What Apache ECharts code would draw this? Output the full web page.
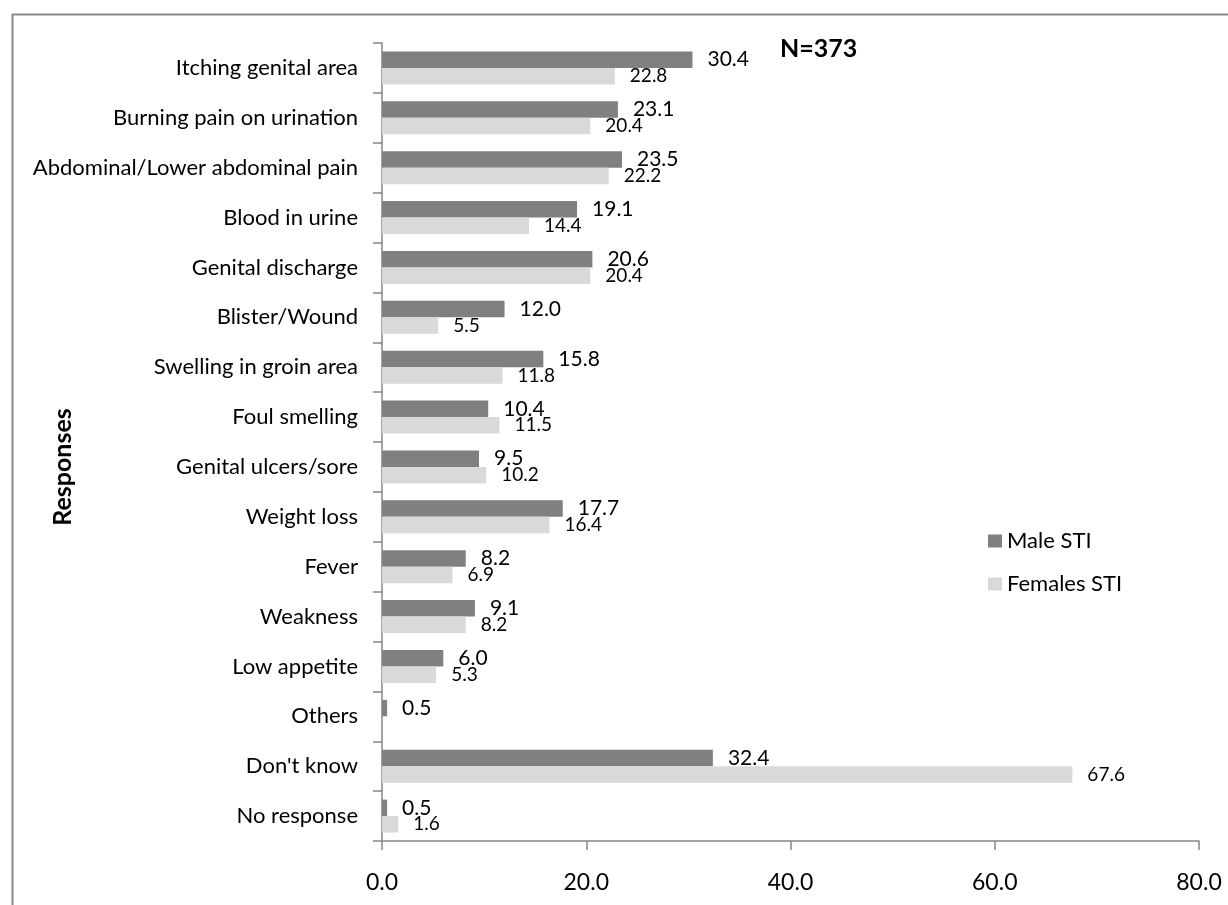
<!DOCTYPE html>
<html>
<head>
<meta charset="utf-8">
<script src="https://cdn.jsdelivr.net/npm/echarts@6/dist/echarts.min.js"></script>
<style>
html,body{margin:0;padding:0;background:#fff;}
#chart{width:1228px;height:905px;}
</style>
</head>
<body>
<div id="chart"></div>
<script>
var categories = [
  'Itching genital area',
  'Burning pain on urination',
  'Abdominal/Lower abdominal pain',
  'Blood in urine',
  'Genital discharge',
  'Blister/Wound',
  'Swelling in groin area',
  'Foul smelling',
  'Genital ulcers/sore',
  'Weight loss',
  'Fever',
  'Weakness',
  'Low appetite',
  'Others',
  "Don't know",
  'No response'
];
var maleSTI = [30.4, 23.1, 23.5, 19.1, 20.6, 12.0, 15.8, 10.4, 9.5, 17.7, 8.2, 9.1, 6.0, 0.5, 32.4, 0.5];
var femaleSTI = [22.8, 20.4, 22.2, 14.4, 20.4, 5.5, 11.8, 11.5, 10.2, 16.4, 6.9, 8.2, 5.3, null, 67.6, 1.6];
var xTicks = [0, 20, 40, 60, 80];
var seriesNames = ['Male STI', 'Females STI'];
var sampleNote = 'N=373';
var axisTitle = 'Responses';

var FONT = 'Lato, "Open Sans", sans-serif';
var chart = echarts.init(document.getElementById('chart'));
chart.setOption({
  backgroundColor: '#ffffff',
  animation: false,
  textStyle: { fontFamily: FONT, color: '#000' },
  graphic: [
    { type: 'rect', left: 10, top: 12, shape: { width: 1300, height: 1000 },
      style: { fill: 'none', stroke: '#8a8a8a', lineWidth: 2 }, silent: true },
    { type: 'text', left: 780, top: 36,
      style: { text: sampleNote, font: 'bold 25px ' + FONT, fill: '#000' } },
    { type: 'text', x: 63, y: 467, rotation: Math.PI / 2,
      style: { text: axisTitle, font: 'bold 25px ' + FONT, fill: '#000',
               align: 'center', verticalAlign: 'middle' } }
  ],
  legend: {
    orient: 'vertical',
    left: 983,
    top: 525,
    itemWidth: 14,
    itemHeight: 13,
    itemGap: 21,
    data: seriesNames,
    textStyle: { fontSize: 22, fontFamily: FONT, color: '#000' },
    icon: 'rect'
  },
  grid: { left: 382, right: 29, top: 43, bottom: 64, containLabel: false },
  xAxis: {
    type: 'value',
    min: xTicks[0],
    max: xTicks[xTicks.length - 1],
    interval: xTicks[1] - xTicks[0],
    splitLine: { show: false },
    axisLine: { show: true, lineStyle: { color: '#868686', width: 1.5 } },
    axisTick: { show: true, length: 9, lineStyle: { color: '#868686', width: 1.5 } },
    axisLabel: { fontSize: 23, margin: 30, color: '#000', fontFamily: FONT,
                 formatter: function (v) { return v.toFixed(1); } }
  },
  yAxis: {
    type: 'category',
    data: categories,
    inverse: true,
    axisLine: { show: true, lineStyle: { color: '#868686', width: 1.5 } },
    axisTick: { show: true, length: 9, lineStyle: { color: '#868686', width: 1.5 } },
    axisLabel: { fontSize: 22, margin: 24, color: '#000', fontFamily: FONT }
  },
  series: [
    {
      name: seriesNames[0], type: 'bar', data: maleSTI,
      barGap: '0%', barCategoryGap: '34%',
      itemStyle: { color: '#808080' },
      label: { show: true, position: 'right', distance: 15, fontSize: 21,
               color: '#000', fontFamily: FONT,
               formatter: function (p) { return p.value == null ? '' : p.value.toFixed(1); } }
    },
    {
      name: seriesNames[1], type: 'bar', data: femaleSTI,
      itemStyle: { color: '#d9d9d9' },
      label: { show: true, position: 'right', distance: 15, fontSize: 19,
               color: '#000', fontFamily: FONT,
               formatter: function (p) { return p.value == null ? '' : p.value.toFixed(1); } }
    }
  ]
});
</script>
</body>
</html>
